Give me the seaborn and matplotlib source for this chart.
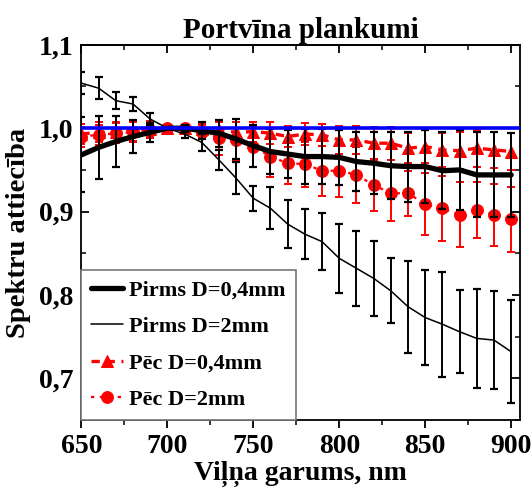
import numpy as np
import pandas as pd
import matplotlib
matplotlib.use("Agg")
import matplotlib.pyplot as plt
import seaborn as sns
from matplotlib.ticker import MultipleLocator, FixedLocator, FixedFormatter

# ---------------- data ----------------
wavelength = [650, 660, 670, 680, 690, 700, 710, 720, 730, 740, 750, 760, 770,
              780, 790, 800, 810, 820, 830, 840, 850, 860, 870, 880, 890, 900]

pirms_04 = [0.968, 0.977, 0.984, 0.990, 0.995, 1.000, 1.000, 0.997, 0.994, 0.987,
            0.979, 0.972, 0.969, 0.966, 0.966, 0.965, 0.960, 0.958, 0.955, 0.954,
            0.954, 0.949, 0.950, 0.944, 0.944, 0.944]
pirms_04_err = [0.045, 0.038, 0.031, 0.020, 0.011, 0.000, 0.004, 0.010, 0.016, 0.024,
                0.025, 0.027, 0.029, 0.033, 0.033, 0.033, 0.035, 0.037, 0.040, 0.042,
                0.044, 0.046, 0.048, 0.051, 0.051, 0.050]

pirms_2 = [1.054, 1.048, 1.033, 1.029, 1.011, 1.000, 0.993, 0.983, 0.962, 0.940,
           0.916, 0.904, 0.885, 0.873, 0.864, 0.844, 0.832, 0.820, 0.805, 0.786,
           0.773, 0.765, 0.756, 0.748, 0.746, 0.732]
pirms_2_err = [0.013, 0.013, 0.010, 0.008, 0.007, 0.000, 0.005, 0.010, 0.012, 0.019,
               0.015, 0.025, 0.029, 0.030, 0.034, 0.041, 0.045, 0.045, 0.039, 0.055,
               0.057, 0.063, 0.050, 0.059, 0.059, 0.062]

pec_04 = [0.993, 0.995, 0.996, 0.997, 0.999, 1.000, 1.000, 0.999, 0.998, 0.995,
          0.996, 0.994, 0.990, 0.993, 0.992, 0.986, 0.986, 0.982, 0.982, 0.976,
          0.978, 0.974, 0.973, 0.976, 0.974, 0.972]
pec_04_err = [0.012, 0.012, 0.012, 0.012, 0.010, 0.000, 0.003, 0.006, 0.010, 0.012,
              0.012, 0.013, 0.013, 0.013, 0.013, 0.017, 0.017, 0.020, 0.020, 0.018,
              0.020, 0.020, 0.022, 0.022, 0.022, 0.022]

pec_2 = [0.990, 0.992, 0.994, 0.995, 0.998, 1.000, 1.000, 0.996, 0.988, 0.986,
         0.978, 0.966, 0.958, 0.957, 0.949, 0.949, 0.944, 0.932, 0.922, 0.922,
         0.909, 0.904, 0.896, 0.902, 0.896, 0.891]
pec_2_err = [0.012, 0.012, 0.012, 0.012, 0.010, 0.000, 0.004, 0.008, 0.020, 0.025,
             0.025, 0.024, 0.025, 0.027, 0.030, 0.032, 0.034, 0.031, 0.033, 0.027,
             0.037, 0.039, 0.039, 0.034, 0.037, 0.039]

reference_level = 1.0

labels = ["Pirms D=0,4mm", "Pirms D=2mm", "Pēc D=0,4mm", "Pēc D=2mm"]
title = "Portvīna plankumi"
xlabel = "Viļņa garums, nm"
ylabel = "Spektru attiecība"
yticks = [0.7, 0.8, 0.9, 1.0, 1.1]
ytick_labels = ["0,7", "0,8", "0,9", "1,0", "1,1"]
xticks = [650, 700, 750, 800, 850, 900]

# ---------------- style ----------------
sns.set_style("ticks")
plt.rcParams["font.family"] = ["Liberation Serif", "DejaVu Serif"]
plt.rcParams["font.weight"] = "bold"
for key in ["text.color", "axes.labelcolor", "xtick.color", "ytick.color",
            "axes.edgecolor"]:
    plt.rcParams[key] = "black"

df = pd.DataFrame({"wl": wavelength, "p04": pirms_04, "p2": pirms_2,
                   "e04": pec_04, "e2": pec_2})

fig = plt.figure(figsize=(5.32, 4.92), dpi=100)
ax = fig.add_axes([0.153, 0.146, 0.824, 0.763])

# red series (after)
ax.errorbar(wavelength, pec_2, yerr=pec_2_err, fmt="none", ecolor="red",
            elinewidth=1.4, capsize=3.2, capthick=1.4, zorder=2)
ax.errorbar(wavelength, pec_04, yerr=pec_04_err, fmt="none", ecolor="red",
            elinewidth=1.4, capsize=3.2, capthick=1.4, zorder=2)
sns.lineplot(data=df, x="wl", y="e2", ax=ax, color="red", lw=1.6,
             linestyle=(0, (1.5, 2.5)), marker="o", markersize=8.5,
             markeredgecolor="red", label=labels[3], zorder=3)
sns.lineplot(data=df, x="wl", y="e04", ax=ax, color="red", lw=2.4,
             linestyle=(0, (2.5, 2.0)), marker="^", markersize=9,
             markeredgecolor="red", label=labels[2], zorder=3)

# black series (before)
ax.errorbar(wavelength, pirms_2, yerr=pirms_2_err, fmt="none", ecolor="black",
            elinewidth=1.4, capsize=3.2, capthick=1.6, zorder=4)
ax.errorbar(wavelength, pirms_04, yerr=pirms_04_err, fmt="none", ecolor="black",
            elinewidth=1.4, capsize=3.2, capthick=1.6, zorder=4)
sns.lineplot(data=df, x="wl", y="p2", ax=ax, color="black", lw=1.1,
             label=labels[1], zorder=5)
sns.lineplot(data=df, x="wl", y="p04", ax=ax, color="black", lw=3.8,
             label=labels[0], zorder=5)

ax.axhline(reference_level, color="#0000ff", lw=2.6, zorder=6)

ax.set_xlim(650, 905)
ax.set_ylim(0.65, 1.1)
ax.xaxis.set_major_locator(FixedLocator(xticks))
ax.xaxis.set_minor_locator(MultipleLocator(25))
ax.yaxis.set_major_locator(FixedLocator(yticks))
ax.yaxis.set_major_formatter(FixedFormatter(ytick_labels))
ax.yaxis.set_minor_locator(MultipleLocator(0.05))

for s in ax.spines.values():
    s.set_visible(True)
    s.set_linewidth(1.3)
    s.set_color("black")

ax.tick_params(axis="x", which="both", direction="out", bottom=True, top=False,
               labelsize=20, pad=4, colors="black")
ax.tick_params(axis="x", which="major", length=6, width=1.3)
ax.tick_params(axis="x", which="minor", length=3.5, width=1.1)
ax.tick_params(axis="y", which="both", direction="in", left=True, right=True,
               labelsize=20, pad=6, colors="black")
ax.tick_params(axis="y", which="major", length=6, width=1.3)
ax.tick_params(axis="y", which="minor", length=3.5, width=1.1)
# top ticks pointing inward
sec = ax.secondary_xaxis("top")
sec.xaxis.set_major_locator(FixedLocator(xticks))
sec.xaxis.set_minor_locator(MultipleLocator(25))
sec.tick_params(which="both", direction="in", labeltop=False, colors="black")
sec.tick_params(which="major", length=6, width=1.3)
sec.tick_params(which="minor", length=3.5, width=1.1)
sec.spines["top"].set_linewidth(1.3)

for lab in ax.get_xticklabels() + ax.get_yticklabels():
    lab.set_fontweight("bold")

ax.set_title(title, fontsize=21, fontweight="bold", pad=5, color="black")
ax.set_xlabel(xlabel, fontsize=20, fontweight="bold", labelpad=1, color="black")
ax.set_ylabel(ylabel, fontsize=20.5, fontweight="bold", labelpad=5, color="black")

handles, hlabels = ax.get_legend_handles_labels()
order = [hlabels.index(l) for l in labels]
leg = ax.legend([handles[i] for i in order], [hlabels[i] for i in order],
                loc="lower left", bbox_to_anchor=(0, 0), borderaxespad=0,
                prop={"family": ["Liberation Serif"], "weight": "bold", "size": 16},
                frameon=True, fancybox=False, edgecolor="#777777",
                framealpha=1, handlelength=1.4, handletextpad=0.3,
                labelspacing=0.72, borderpad=0.45)
leg.get_frame().set_linewidth(1.2)
leg.set_zorder(10)
for t in leg.get_texts():
    t.set_color("black")

fig.savefig("out.png", dpi=100)
